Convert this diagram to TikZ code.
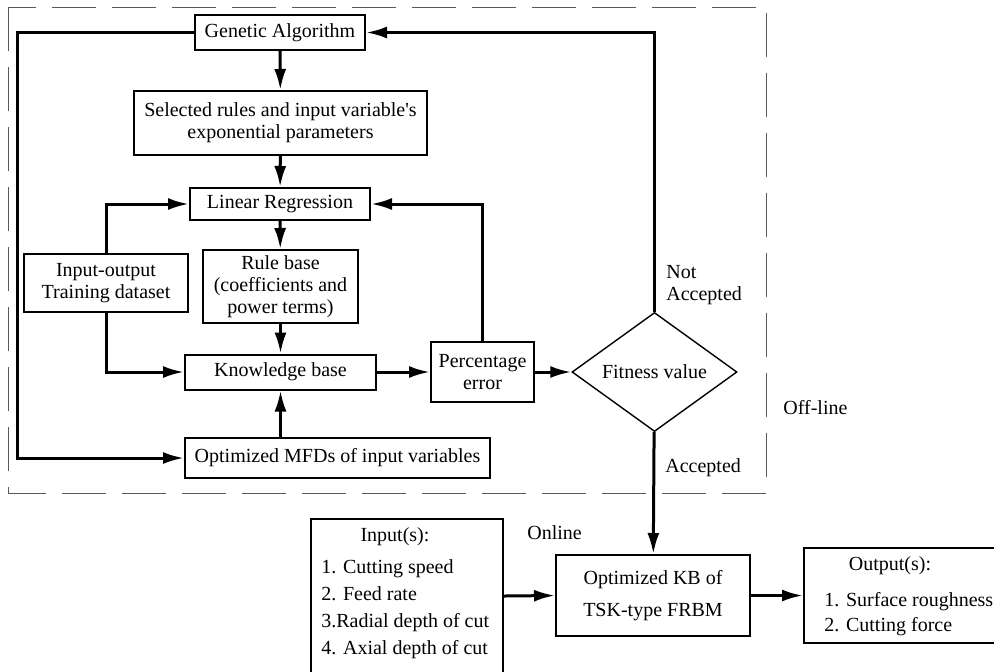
\documentclass[tikz,border=0pt]{standalone}
\usepackage{fontspec}
\setmainfont{Liberation Serif}
\usetikzlibrary{shapes.geometric,arrows.meta}

\tikzset{
	block/.style={draw, line width=1pt, inner sep=0pt, align=center,
		font=\fontsize{10}{11}\selectfont},
	decision/.style={draw, diamond, line width=0.7pt, inner sep=0pt,
		font=\fontsize{10}{11}\selectfont},
	flow/.style={line width=1.5pt, -{Latex[length=10.5pt,width=6pt]}},
	tag/.style={inner sep=0pt, align=left, font=\fontsize{10}{11}\selectfont}
}

\begin{document}
\begin{tikzpicture}[x=0.5pt, y=-0.5pt]
	\useasboundingbox (0,0) rectangle (994,671);
	% off-line frame
	\draw [gray!70!black, line width=0.5pt, dash pattern=on 22pt off 8pt] (8,7) rectangle (766,493);

	\node [block, minimum width=85pt, minimum height=17.5pt] (ga) at (280,32.5) {Genetic Algorithm};
	\node [block, minimum width=146.5pt, minimum height=32pt] (sel) at (280.5,123)
		{Selected rules and input variable\textquotesingle s\\exponential parameters};
	\node [block, minimum width=90pt, minimum height=16pt] (lr) at (280,204) {Linear Regression};
	\node [block, minimum width=77.5pt, minimum height=36.5pt] (rb) at (280.5,286.5)
		{Rule base\\(coefficients and\\power terms)};
	\node [block, minimum width=82pt, minimum height=29pt] (io) at (106,283) {Input-output\\Training dataset};
	\node [block, minimum width=95.5pt, minimum height=17.5pt] (kb) at (280.5,372) {Knowledge base};
	\node [block, minimum width=152.5pt, minimum height=20pt] (mfd) at (337.5,458) {Optimized MFDs of input variables};
	\node [block, minimum width=51.5pt, minimum height=30pt] (pe) at (482.5,372) {Percentage\\error};
	\node [decision, minimum width=82.5pt, minimum height=41pt] (fit) at (654.5,372) {Fitness value};
	\coordinate (back) at (17,0);

	\draw [flow] (ga) -- (sel);
	\draw [flow] (sel) -- (lr);
	\draw [flow] (lr) -- (rb);
	\draw [flow] (rb) -- (kb);
	\draw [flow] (kb.south |- mfd.north) -- (kb.south);
	\draw [flow] (io.north) |- (lr.west);
	\draw [flow] (io.south) |- (kb.west);
	\draw [flow] (kb) -- (pe);
	\draw [flow] (pe) -- (fit);
	\draw [flow] (pe.north) |- (lr.east);
	\draw [flow] (fit.north) |- (ga.east);
	\draw [flow] (ga.west) -- (ga.west -| back) |- (mfd.west);

	\node [tag, anchor=west] (notacc) at (666,285) {Not\\Accepted};
	\node [tag, anchor=west] (acc) at (665,468) {Accepted};
	\node [tag, anchor=west] (offline) at (783,408) {Off-line};
	\node [tag, anchor=west] (online) at (527,533) {Online};

	% on-line part
	\node [block, minimum width=97pt, minimum height=40.5pt, font=\fontsize{10}{16}\selectfont] (okb) at (653,595.5)
		{Optimized KB of\\TSK-type FRBM};
	\node [block, minimum width=96pt, minimum height=77pt] (inp) at (407,596) {};
	\node [tag] (inptitle) at (395,537) {Input(s):};
	\node [tag, anchor=west, font=\fontsize{10}{13.5}\selectfont] (inplist) at (321,609)
		{1. Cutting speed\\2. Feed rate\\3.Radial depth of cut\\4. Axial depth of cut};
	\node [block, minimum width=98pt, minimum height=47.5pt] (out) at (902,595.5) {};
	\node [tag] (outtitle) at (890,566) {Output(s):};
	\node [tag, anchor=west, font=\fontsize{10}{12.5}\selectfont] (outlist) at (824,614.5)
		{1. Surface roughness\\2. Cutting force};

	\draw [flow] (fit) -- (okb);
	\draw [flow] (inp.east) -- (okb.west);
	\draw [flow] (okb) -- (out);
\end{tikzpicture}
\end{document}
